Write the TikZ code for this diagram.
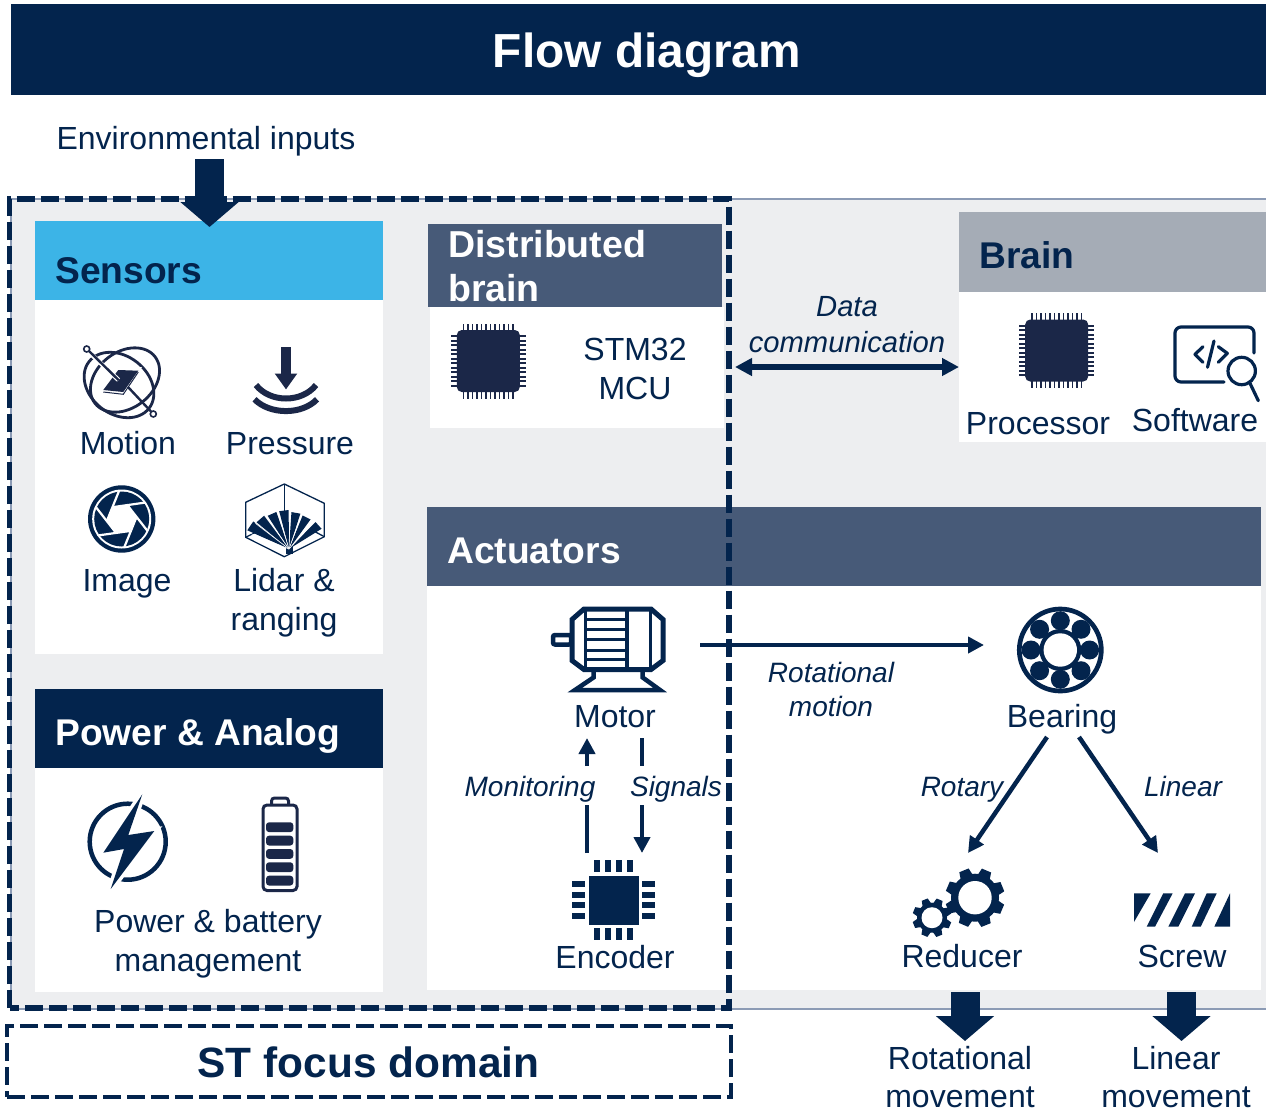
\documentclass[tikz,border=0pt]{standalone}
\usepackage{fontspec}
\setmainfont{Liberation Sans}
\usetikzlibrary{arrows.meta,calc}
\definecolor{navy}{HTML}{03244D}
\definecolor{icon}{HTML}{1B2748}
\definecolor{skyb}{HTML}{3CB4E7}
\definecolor{slate}{HTML}{475A78}
\definecolor{brainc}{HTML}{A5ACB6}
\definecolor{bgc}{HTML}{EDEEF0}
\definecolor{rim}{HTML}{8C9BB5}
\tikzset{
  box/.style={anchor=north west,inner sep=0pt,outer sep=0pt,minimum width=#1},
  lab/.style={text=navy,inner sep=0pt,anchor=base,align=center,font=\fontsize{32}{38.2}\selectfont},
  ital/.style={text=navy,inner sep=0pt,anchor=base,align=center,font=\fontsize{28}{34}\selectfont\itshape},
  head/.style={inner sep=0pt,anchor=base west,align=left,font=\fontsize{37.2}{44}\selectfont\bfseries},
  frame/.style={draw=navy,line width=#1,dash pattern=on 18pt off 6pt},
  conn/.style={draw=navy,line width=4.5pt,-{Triangle[length=16pt,width=16pt]}},
  plain/.style={draw=navy,line width=4.5pt},
  block/.style={draw=navy,line width=29pt,-{Triangle[length=25pt,width=57pt]}},
  chip/.pic={
    \fill[icon,rounded corners=5pt] (-31.5,-31) rectangle (31.5,31);
    \foreach \k in {-5.5,-4.5,...,5.5}{
      \fill[icon] ({\k*4.5-.9},-37.5) rectangle ({\k*4.5+.9},37.5);
      \fill[icon] (-37.5,{\k*4.5-.9}) rectangle (37.5,{\k*4.5+.9});
    }
  },
}
\newcommand{\mygear}[6]{% cx cy body outer hole toothhalf
  \begin{scope}[shift={(#1,#2)}]
    \fill[navy] (0,0) circle (#3);
    \foreach \a in {0,45,...,315}{
      \fill[navy,rotate=\a+22] (-#6-1.5,#3-2) -- (-#6,#4) -- (#6,#4) -- (#6+1.5,#3-2) -- cycle;
    }
    \fill[white] (0,0) circle (#5);
  \end{scope}}
\begin{document}
\begin{tikzpicture}[x=1pt,y=-1pt]
\useasboundingbox (0,0) rectangle (1266,1111);
% backgrounds
\fill[bgc] (11,199) rectangle (1266,1009);
\draw[rim,line width=2pt] (11,1009) -- (11,199) -- (1266,199);
\draw[rim,line width=2pt] (11,1009) -- (1266,1009);
% title
\node (titlebar) [box=1255pt,minimum height=91pt,fill=navy] at (11,4) {};
\node (title) [anchor=base,text=white,inner sep=0pt,font=\fontsize{47.8}{56}\selectfont\bfseries] at (647,67) {Flow diagram};
\node (envin) [lab] at (206,149) {Environmental inputs};
% panels
\node (sensbody) [box=348pt,minimum height=354pt,fill=white] at (35,300) {};
\node (senshead) [box=348pt,minimum height=79pt,fill=skyb] at (35,221) {};
\node (powbody) [box=348pt,minimum height=224pt,fill=white] at (35,768) {};
\node (powhead) [box=348pt,minimum height=79pt,fill=navy] at (35,689) {};
\node (distbody) [box=294pt,minimum height=121pt,fill=white] at (430,307) {};
\node (disthead) [box=294pt,minimum height=83pt,fill=slate] at (428,224) {};
\node (actbody) [box=834pt,minimum height=404pt,fill=white] at (427,586) {};
\node (acthead) [box=834pt,minimum height=79pt,fill=slate] at (427,507) {};
\node (brainbody) [box=307pt,minimum height=150pt,fill=white] at (959,292) {};
\node (brainhead) [box=307pt,minimum height=80pt,fill=brainc] at (959,212) {};
% headings
\node (senst) [head,text=navy] at (55,283) {Sensors};
\node (powt) [head,text=white] at (55,745) {Power \& Analog};
\node (distt) [head,text=white,font=\fontsize{37.5}{44}\selectfont\bfseries] at (448,301) {Distributed\\brain};
\node (actt) [head,text=white] at (447,563) {Actuators};
\node (braint) [head,text=navy] at (979,268) {Brain};
% labels
\node (motion) [lab] at (128,454) {Motion};
\node (pressure) [lab] at (290,454) {Pressure};
\node (image) [lab] at (127,591) {Image};
\node (lidar) [lab] at (284,630) {Lidar \&\\ranging};
\node (pbm) [lab] at (208,971) {Power \& battery\\management};
\node (stm) [lab] at (635,399) {STM32\\MCU};
\node (proc) [lab] at (1038,434) {Processor};
\node (soft) [lab] at (1195,431) {Software};
\node (datac) [ital,font=\fontsize{29.2}{36}\selectfont\itshape] at (847,352) {Data\\communication};
\node (rotm) [ital] at (831,716) {Rotational\\motion};
\node (motor) [lab] at (615,727) {Motor};
\node (monit) [ital] at (530,796) {Monitoring};
\node (signals) [ital] at (676,796) {Signals};
\node (encoder) [lab] at (615,968) {Encoder};
\node (bearing) [lab] at (1062,727) {Bearing};
\node (rotary) [ital] at (962,796) {Rotary};
\node (linear) [ital] at (1183,796) {Linear};
\node (reducer) [lab] at (962,967) {Reducer};
\node (screw) [lab] at (1182,967) {Screw};
\node (rotmove) [lab] at (960,1107.5) {Rotational\\movement};
\node (linmove) [lab] at (1176,1107.5) {Linear\\movement};
% motion icon
\begin{scope}[icon]
  \draw[line width=2.8pt,rotate around={38:(125,380)}] (125,380) ellipse (38 and 28);
  \draw[line width=2.8pt,rotate around={-38:(119,385)}] (119,385) ellipse (38 and 29);
  \fill[white] (115,367) -- (142,367) -- (125,397) -- (100,394) -- cycle;
  \fill (118.3,370) -- (138.3,370.7) -- (123.3,392) -- (103.3,390) -- cycle;
  \draw[line width=1pt] (103.3,392) -- (123.3,394.3) -- (138.3,372);
  \draw[white,line width=4.5pt] (92,355) -- (118.5,380);
  \draw[line width=2.4pt] (89,351) -- (118.5,380);
  \draw[line width=2.4pt] (128,387) -- (151,411.5);
  \draw[line width=1.6pt,fill=white] (86.7,349) circle (3);
  \draw[line width=1.6pt,fill=white] (153.3,414) circle (3);
  % pressure icon
  \fill (281,346.7) rectangle (290.7,373.5);
  \fill (274.7,373.5) -- (297.3,373.5) -- (286,389.3) -- cycle;
  \draw[line width=6pt] (256,385) .. controls (270,403) and (302,403) .. (316,385);
  \draw[line width=6pt] (254.5,399.3) .. controls (270,415) and (302,415) .. (317,399.3);
\end{scope}
% aperture icon
\begin{scope}[shift={(121.7,519)}]
  \fill[navy] (0,0) circle (33.7);
  \fill[white] (0,0) circle (29.5);
  \fill[navy] (0,0) circle (27.5);
  \fill[white] (15,0) -- (7.5,13) -- (-7.5,13) -- (-15,0) -- (-7.5,-13) -- (7.5,-13) -- cycle;
  \begin{scope}
    \clip (0,0) circle (28);
    \foreach \a in {0,60,...,300}{
      \draw[white,line width=2.2pt,rotate=\a+8] (15,0) -- ++(120:40);
    }
  \end{scope}
\end{scope}
% lidar icon
\draw[navy,line width=1.3pt] (284.3,484) -- (324.3,503.3) -- (324.3,536.7) -- (284.3,556.7) -- (245.7,537.3) -- (245.7,502.3) -- cycle;
\draw[navy,line width=1.3pt] (284.3,484) -- (284.3,515);
\draw[navy,line width=1.3pt] (245.7,537.3) -- (262,529);
\draw[navy,line width=1.3pt] (324.3,536.7) -- (310,529);
\begin{scope}[shift={(289,552)}]
  \fill[navy] (-3.5,-6) rectangle (3.5,2);
  \foreach \a/\r in {146/47,131/44,114/42,97/42,80/40,63/39,42/40}{
    \fill[navy] (0,-3) -- ({-\a+6.5}:\r) -- ({-\a-6.5}:\r) -- cycle;
    \draw[white,line width=.6pt] (0,-3) -- ({-\a-8.5}:\r);
  }
\end{scope}
% lightning icon
\draw[navy,line width=4.5pt] (127.7,841.7) circle (38);
\fill[navy,draw=white,line width=7pt,line join=miter] (142.3,794.3) -- (128.3,835) -- (154.3,831) -- (110.7,889) -- (124,849) -- (103.3,852.7) -- cycle;
\fill[navy] (142.3,794.3) -- (128.3,835) -- (154.3,831) -- (110.7,889) -- (124,849) -- (103.3,852.7) -- cycle;
% battery icon
\draw[icon,line width=3pt,rounded corners=4pt] (263,805) rectangle (297,890.5);
\draw[icon,line width=3pt,rounded corners=3pt] (271.5,805) -- (271.5,798) -- (288.5,798) -- (288.5,805);
\foreach \y in {822.3,835.7,849,862.3,875.7}{
  \fill[icon,rounded corners=3pt] (266,\y) rectangle (293.3,\y+9.8);
}
% chips
\pic at (488.3,361) {chip};
\pic at (1056.7,350.5) {chip};
% software icon
\begin{scope}[navy,line width=3.2pt,line cap=round,line join=round]
  \draw[rounded corners=6pt] (1254,353) -- (1254,327) -- (1175,327) -- (1175,382) -- (1224,382);
  \draw (1203,346.7) -- (1195,354.3) -- (1203,362.3);
  \draw (1214,341) -- (1207.5,367.3);
  \draw (1218.3,346.7) -- (1227.3,353.3) -- (1218.3,362.3);
  \draw (1241.7,371) circle (13.7);
  \draw (1250,383.3) -- (1258.3,400.7);
\end{scope}
% motor icon
\begin{scope}[navy,line join=miter]
  \draw[line width=4.5pt,rounded corners=2pt] (553,635) rectangle (571,644.5);
  \draw[line width=5pt,fill=white] (584,609) -- (651,609) -- (663,619.5) -- (663,660.5) -- (651,669.5) -- (584,669.5) -- (572,660.5) -- (572,619.5) -- cycle;
  \draw[line width=3pt] (585.7,609) -- (585.7,669.5);
  \draw[line width=3.5pt] (627,609) -- (627,669.5);
  \draw[line width=3pt] (650,609) -- (650,669.5);
  \foreach \y in {619.5,629,639.5,650,659.5}{
    \draw[line width=3pt] (585.7,\y) -- (627,\y);
  }
  \draw[line width=4.5pt] (593.5,671) -- (593.5,677.5) -- (575,690) -- (660,690) -- (642.7,677.5) -- (642.7,671);
\end{scope}
% encoder icon
\fill[navy] (589,876) rectangle (639,925);
\foreach \x in {594,605,616,627}{
  \fill[navy] (\x,860) rectangle (\x+6,871.7);
  \fill[navy] (\x,928) rectangle (\x+6,940);
}
\foreach \y in {881,891.7,902.3,913}{
  \fill[navy] (572,\y) rectangle (585,\y+6);
  \fill[navy] (642.3,\y) rectangle (655,\y+6);
}
% bearing icon
\begin{scope}[shift={(1060.3,650)}]
  \draw[navy,line width=4.7pt] (0,0) circle (41);
  \foreach \a in {0,45,...,315}{ \fill[navy] (\a:29.3) circle (9.5); }
  \fill[navy] (0,0) circle (21);
  \fill[white] (0,0) circle (16.7);
\end{scope}
% gears
\mygear{975}{897.7}{24}{29.5}{16.7}{5}
\mygear{932}{917.7}{15}{19.5}{10.5}{3.2}
% screw icon
\fill[navy] (1134,893.3) -- (1150.7,893.3) -- (1134,922) -- cycle;
\fill[navy] (1163.3,893.3) -- (1172.7,893.3) -- (1155,926.7) -- (1146.7,926.7) -- cycle;
\fill[navy] (1185,893.3) -- (1195,893.3) -- (1178.3,926.7) -- (1168.3,926.7) -- cycle;
\fill[navy] (1206.7,893.3) -- (1216.7,893.3) -- (1200.7,926.7) -- (1191.7,926.7) -- cycle;
\fill[navy] (1230,893.3) -- (1230,926.7) -- (1214.3,926.7) -- cycle;
% connector ends
\coordinate (envA) at (209.5,159);
\coordinate (envB) at (209.5,227);
\coordinate (motOut) at (700,645);
\coordinate (bearIn) at (984,645);
\coordinate (monA) at (587,853);
\coordinate (monB) at (587,805);
\coordinate (monC) at (587,766);
\coordinate (monD) at (587,738);
\coordinate (sigA) at (642,738);
\coordinate (sigB) at (642,766);
\coordinate (sigC) at (642,805);
\coordinate (sigD) at (642,853);
\coordinate (bR) at (1047,737);
\coordinate (rT) at (968,853);
\coordinate (bL) at (1079,737);
\coordinate (lT) at (1158,853);
\coordinate (rotA) at (965,992);
\coordinate (rotB) at (965,1041);
\coordinate (linA) at (1181.5,992);
\coordinate (linB) at (1181.5,1041);
% dashed frames
\draw[frame=5.5pt] (9.5,1008) -- (9.5,199) -- (729,199) -- (729,1008) -- cycle;
\node (stbox) [box=724pt,minimum height=71pt,draw=navy,line width=4.5pt,dash pattern=on 18pt off 6pt] at (7,1026) {};
\node (stt) [anchor=base,text=navy,inner sep=0pt,font=\fontsize{42.4}{50}\selectfont\bfseries] at (368.5,1077) {ST focus domain};
% connectors
\draw[block] (envA) -- (envB);
\draw[block] (rotA) -- (rotB);
\draw[block] (linA) -- (linB);
\draw[draw=navy,line width=6pt,{Triangle[length=17pt,width=17pt]}-{Triangle[length=17pt,width=17pt]},shorten <=11pt] (distbody.east |- brainbody.west) -- (brainbody.west);
\draw[conn] (motOut) -- (bearIn);
\draw[plain] (monA) -- (monB);
\draw[conn] (monC) -- (monD);
\draw[plain] (sigA) -- (sigB);
\draw[conn] (sigC) -- (sigD);
\draw[conn] (bR) -- (rT);
\draw[conn] (bL) -- (lT);
\end{tikzpicture}
\end{document}
